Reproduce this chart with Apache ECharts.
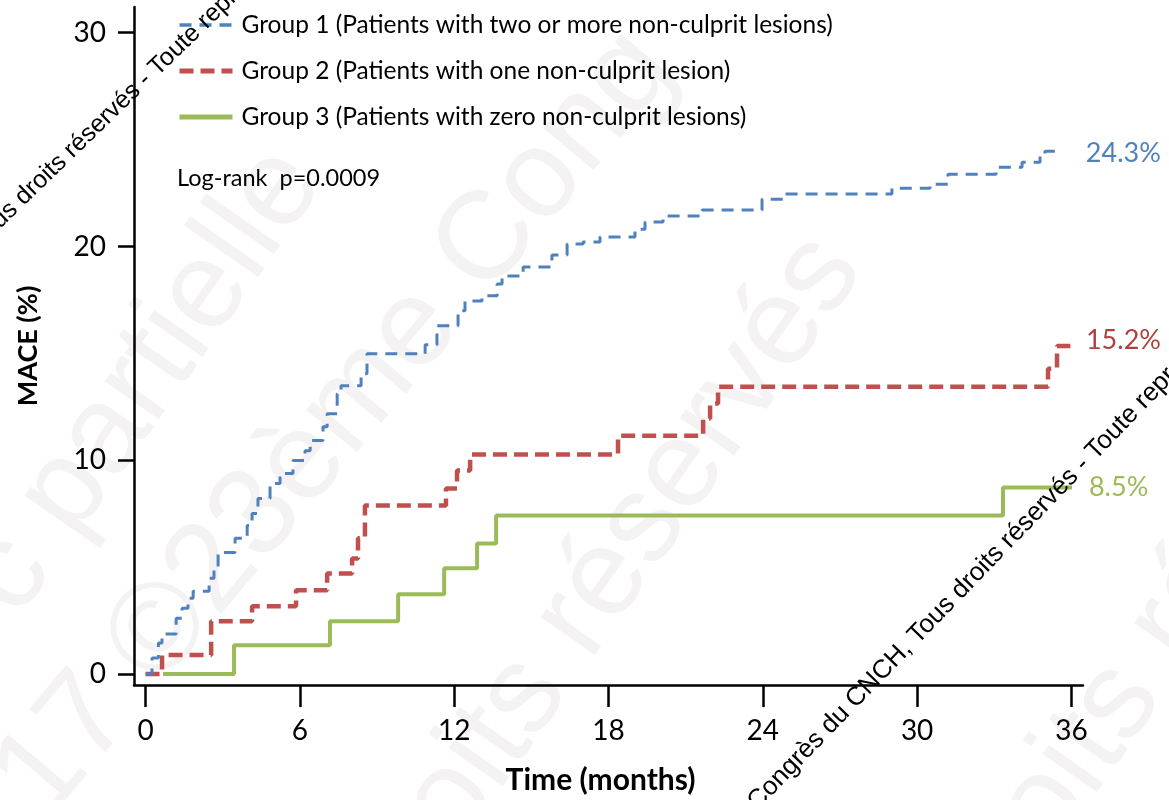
<!DOCTYPE html>
<html>
<head>
<meta charset="utf-8">
<script src="https://cdn.jsdelivr.net/npm/echarts@6/dist/echarts.min.js"></script>
<style>
  html, body { margin: 0; padding: 0; background: #fff; }
  #chart { width: 1169px; height: 800px; }
</style>
</head>
<body>
<div id="chart"></div>
<script>
// Kaplan-Meier style cumulative MACE curves (time in months, MACE in %)
const group1Time = [0, 0.25, 0.5, 0.64, 1.19, 1.42, 1.65, 1.85, 2.47, 2.66, 2.82, 3.48, 3.95, 4.14, 4.37, 4.84, 5.23, 5.73, 6.2, 6.4, 6.9, 7.06, 7.45, 7.6, 8.38, 8.61, 10.87, 11.33, 12.15, 12.42, 13.08, 13.67, 13.86, 14.68, 15.8, 16.39, 17.01, 17.67, 19.03, 19.42, 20.12, 21.64, 23.97, 24.86, 29.02, 30.5, 31.2, 33.07, 34.08, 34.78, 34.97, 35.55]
const group1Mace = [0, 0.75, 1.45, 1.87, 2.61, 3.08, 3.55, 3.87, 4.48, 4.95, 5.69, 6.35, 6.95, 7.51, 8.21, 8.91, 9.38, 9.99, 10.45, 10.92, 11.57, 12.18, 13.11, 13.49, 14.05, 14.98, 15.4, 16.29, 16.99, 17.45, 17.69, 18.25, 18.62, 19.04, 19.6, 20.11, 20.21, 20.44, 20.81, 21.14, 21.42, 21.7, 22.21, 22.45, 22.72, 22.91, 23.38, 23.7, 23.94, 24.26, 24.45, 24.45]

const group2Time = [0, 0.64, 2.55, 4.14, 5.85, 7.06, 8.03, 8.26, 8.53, 11.68, 12.11, 12.62, 18.37, 21.68, 21.95, 22.26, 35.09, 35.44, 36.02]
const group2Mace = [0, 0.89, 2.47, 3.17, 3.92, 4.71, 5.41, 6.35, 7.89, 8.68, 9.52, 10.27, 11.15, 11.95, 12.65, 13.44, 14.28, 15.35, 15.35]

const group3Time = [0.68, 3.44, 7.17, 9.82, 11.61, 12.89, 13.63, 33.34, 36.02]
const group3Mace = [0, 1.35, 2.47, 3.73, 4.95, 6.11, 7.42, 8.73, 8.73]

const groupNames = [
  'Group 1 (Patients with two or more non-culprit lesions)',
  'Group 2 (Patients with one non-culprit lesion)',
  'Group 3 (Patients with zero non-culprit lesions)'
]
const endLabels = ['24.3%', '15.2%', '8.5%']
const xTicks = [0, 6, 12, 18, 24, 30, 36]
const yTicks = [0, 10, 20, 30]
const pValueText = 'Log-rank  p=0.0009'

const FONT = 'Lato, "Open Sans", sans-serif'
const colors = ['#4F81BD', '#C0504D', '#9BBB59']
const labelColors = ['#4F81BD', '#B0413E', '#9BBB59']

const pairs = (t, v) => t.map((x, i) => [x, v[i]])

const chart = echarts.init(document.getElementById('chart'), null, { renderer: 'canvas' })

// faint background watermark and the small copyright notice
const wm = (text, x, y, size, rot) => ({
  type: 'text', x: x, y: y, rotation: rot * Math.PI / 180, z: -10, silent: true,
  style: { text: text, font: size + 'px "Liberation Sans", sans-serif', fill: '#f4f2f2', verticalAlign: 'middle' }
})
const notice = 'Congrès du CNCH, Tous droits réservés - Toute reproduction interdite'
const noticeText = (x, y, rot, size) => ({
  type: 'text', x: x, y: y, rotation: rot * Math.PI / 180, z: 100, silent: true,
  style: { text: notice, font: size + 'px "Liberation Sans", sans-serif', fill: '#000', verticalAlign: 'middle' }
})

const options = {
  animation: false,
  backgroundColor: '#fff',
  title: {
    text: pValueText,
    left: 172, top: 161,
    textStyle: { fontFamily: FONT, fontSize: 23.5, fontWeight: 'normal', color: '#000' }
  },
  legend: {
    orient: 'vertical',
    left: 172, top: 6,
    itemWidth: 53, itemHeight: 14, itemGap: 18,
    itemStyle: { opacity: 0 },
    textStyle: { fontFamily: FONT, fontSize: 24.5, color: '#000', lineHeight: 28, padding: [0, 0, 0, 4] },
    data: [
      { name: groupNames[0], lineStyle: { width: 3.5 } },
      { name: groupNames[1], lineStyle: { width: 5 } },
      { name: groupNames[2], lineStyle: { width: 5 } }
    ]
  },
  grid: { left: 134, right: 86, top: 7, bottom: 113, containLabel: false },
  xAxis: {
    type: 'value',
    min: -0.45, max: 36.45,
    name: 'Time (months)',
    nameLocation: 'middle',
    nameGap: 80,
    nameTextStyle: { fontFamily: FONT, fontSize: 30, fontWeight: 'bold', color: '#000', padding: [0, 16, 0, 0] },
    splitLine: { show: false },
    axisLine: { onZero: false, lineStyle: { color: '#000', width: 2.5 } },
    axisTick: { customValues: xTicks, length: 22, lineStyle: { color: '#000', width: 2.5 } },
    axisLabel: { customValues: xTicks, margin: 32, fontFamily: FONT, fontSize: 28, color: '#000' }
  },
  yAxis: {
    type: 'value',
    min: -0.51, max: 31.2,
    name: 'MACE (%)',
    nameLocation: 'middle',
    nameGap: 92,
    nameTextStyle: { fontFamily: FONT, fontSize: 27, fontWeight: 'bold', color: '#000' },
    splitLine: { show: false },
    axisLine: { show: true, onZero: false, lineStyle: { color: '#000', width: 2.5 } },
    axisTick: { show: true, customValues: yTicks, length: 16, lineStyle: { color: '#000', width: 2.5 } },
    axisLabel: { customValues: yTicks, margin: 28, fontFamily: FONT, fontSize: 28, color: '#000' }
  },
  series: [
    {
      name: groupNames[2], type: 'line', step: 'end', symbol: 'none', z: 3,
      data: pairs(group3Time, group3Mace),
      lineStyle: { color: colors[2], width: 4, type: 'solid' },
      itemStyle: { color: colors[2] },
      endLabel: { show: true, formatter: endLabels[2], color: labelColors[2], fontFamily: FONT, fontSize: 27, distance: 17 }
    },
    {
      name: groupNames[1], type: 'line', step: 'end', symbol: 'none', z: 4,
      data: pairs(group2Time, group2Mace),
      lineStyle: { color: colors[1], width: 4.5, type: [14, 7] },
      itemStyle: { color: colors[1] },
      endLabel: { show: true, formatter: endLabels[1], color: labelColors[1], fontFamily: FONT, fontSize: 27, distance: 14, offset: [0, -6] }
    },
    {
      name: groupNames[0], type: 'line', step: 'end', symbol: 'none', z: 5,
      data: pairs(group1Time, group1Mace),
      lineStyle: { color: colors[0], width: 3, type: [12, 8] },
      itemStyle: { color: colors[0] },
      endLabel: { show: true, formatter: endLabels[0], color: labelColors[0], fontFamily: FONT, fontSize: 27, distance: 26, offset: [0, 2] }
    }
  ],
  graphic: [
    wm('c partielle', -10, 600, 125, 55),
    wm('17 ©23ème Cong', 20, 800, 125, 50),
    wm('oits réservés', 430, 830, 125, 55),
    wm('roits réservés', 1000, 870, 125, 55),
    noticeText(-184, 397, 44, 25),
    noticeText(752, 806, 46, 26)
  ]
}
chart.setOption(options)
</script>
</body>
</html>
